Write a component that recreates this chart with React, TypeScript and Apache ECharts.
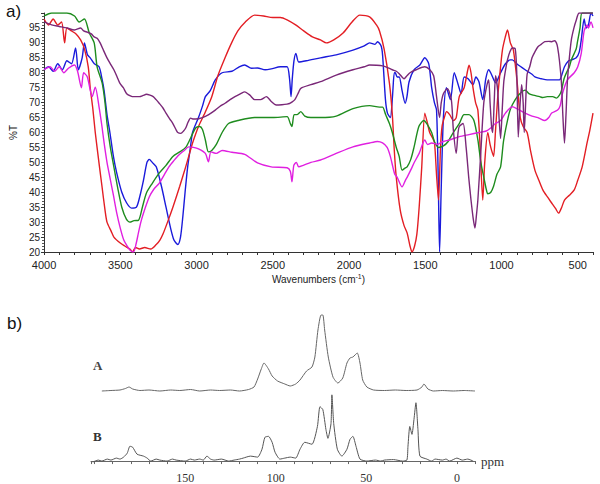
import React, { useEffect, useRef } from "react";
import * as echarts from "echarts";

// FTIR spectra: [wavenumber (cm-1), %T]
const redIR: number[][] = [[4000,98],[3970,96],[3940,98],[3910,96],[3885,97],[3865,90],[3850,95],[3820,94],[3790,93],[3760,91],[3735,88],[3710,82],[3697,75],[3680,68],[3664,60],[3640,50],[3620,42],[3600,34],[3587,30],[3560,27],[3542,25],[3500,23],[3470,22],[3437,21],[3420,20],[3400,21.5],[3374,21],[3340,21.5],[3300,21],[3264,22.5],[3240,24],[3220,26],[3190,30],[3155,35],[3110,42],[3071,48.5],[3040,54],[3026,56.5],[2987,62],[2950,66],[2900,72],[2860,79],[2813,85],[2770,90],[2729,94],[2680,97],[2619,99.3],[2560,99],[2500,98.5],[2450,98.5],[2406,97.7],[2350,96],[2297,94],[2240,92],[2187,91],[2148,90],[2100,91],[2039,93.3],[1980,97],[1929,99.3],[1865,98.7],[1820,96],[1800,94],[1770,88],[1735,76.5],[1716,66],[1703,54],[1690,45],[1664,34],[1640,29],[1619,26.4],[1600,22],[1587,20],[1570,22],[1555,26],[1540,35],[1523,48.5],[1503,66.5],[1485,63],[1471,60],[1450,58],[1439,56.5],[1425,45],[1413,37.4],[1400,55],[1390,62],[1375,65],[1360,67],[1340,66],[1315,64],[1297,65],[1277,72],[1245,75],[1225,80],[1213,82.5],[1200,80],[1187,75],[1170,70],[1155,67.5],[1140,55],[1123,37.4],[1110,50],[1090,60],[1075,56],[1065,54],[1052,52],[1040,60],[1026,71],[1010,80],[994,87.6],[975,92],[961,94.3],[942,90],[922,87.6],[897,76.6],[877,65],[858,62],[832,60],[810,54],[781,47.4],[755,44],[729,40.8],[700,38.5],[671,36.4],[645,34.5],[626,33],[605,35],[587,37.4],[555,39],[523,40.8],[500,44],[471,48.5],[439,56.5],[420,61],[400,66.5]];

const blueIR: number[][] = [[4000,81],[3970,82],[3940,80.5],[3910,83],[3880,81],[3850,84],[3820,83],[3793,88.3],[3775,81],[3750,85],[3735,90],[3715,86],[3697,85],[3670,83],[3639,82],[3620,78],[3606,74],[3587,66],[3568,60],[3545,52],[3523,46.4],[3490,40],[3458,36.4],[3426,34.7],[3394,35],[3370,39],[3348,44],[3325,50],[3310,51],[3290,50],[3264,48.5],[3230,42],[3200,35],[3170,28],[3148,24],[3123,22.5],[3105,25],[3090,31.7],[3075,40],[3058,48.5],[3040,55],[3026,60],[2987,65],[2960,69],[2942,72],[2910,74],[2877,77.6],[2832,80],[2768,80.5],[2720,82],[2684,82.6],[2640,81.5],[2600,81.6],[2550,81],[2510,81.3],[2450,82],[2406,82],[2390,78],[2380,72],[2372,78],[2361,84],[2348,86.5],[2330,83.6],[2280,84],[2187,85],[2084,86],[1974,87.6],[1900,89],[1865,90],[1830,89.5],[1813,90.4],[1790,89],[1780,86],[1761,71],[1748,66.5],[1729,65],[1715,72],[1703,80],[1697,80],[1684,78.6],[1671,78.6],[1652,74],[1632,69.8],[1620,72],[1606,77],[1574,81],[1535,82.6],[1503,85],[1477,83],[1458,75],[1440,70],[1426,67.5],[1415,45],[1406,20],[1396,40],[1381,65],[1361,75],[1335,71],[1310,80],[1284,76],[1265,73],[1245,78.6],[1219,78],[1187,76],[1168,78.6],[1148,77],[1123,71],[1103,78],[1084,81],[1071,80],[1050,77.6],[1039,76.6],[1006,80],[974,83],[942,84.3],[929,84.3],[900,83],[845,81],[800,79.5],[781,78.6],[740,78],[700,77.6],[652,77.6],[620,77.6],[600,80],[587,82],[560,84],[542,84.3],[510,85],[490,87],[477,91],[458,98],[445,95],[430,96],[413,100],[400,99]];

const greenIR: number[][] = [[4000,99],[3950,100],[3900,100],[3850,100],[3800,99],[3770,97],[3735,98],[3703,93.3],[3671,90],[3652,82],[3619,76.6],[3600,70],[3587,63],[3565,55],[3542,48.5],[3515,41],[3490,35],[3460,31],[3437,30],[3410,30.5],[3381,30.6],[3355,35],[3329,39.7],[3290,43],[3245,46.4],[3200,49],[3155,52],[3110,53.5],[3071,55],[3040,58],[3006,61.5],[2980,62],[2961,61],[2942,57.5],[2922,53.5],[2900,54],[2870,56],[2832,60],[2790,63],[2729,64],[2619,65],[2500,65],[2406,65.3],[2385,63],[2374,62],[2360,66],[2340,66],[2316,67],[2290,65.5],[2250,65],[2187,65],[2084,65.5],[1974,68],[1865,69],[1800,68.5],[1780,68.5],[1760,66],[1735,63],[1716,60],[1690,55],[1671,52],[1652,47.4],[1635,48],[1619,48.5],[1595,51],[1574,55],[1542,62],[1510,64],[1490,63],[1458,60],[1440,57],[1413,55],[1381,55.5],[1350,57],[1316,60],[1277,63],[1245,66],[1213,66],[1181,64],[1155,57.5],[1135,49.8],[1116,45],[1100,41],[1090,39.5],[1070,40],[1052,42],[1030,46],[1006,48.5],[987,57],[961,64],[940,68],[910,71],[880,73],[845,74.2],[820,73],[793,72.5],[750,72],[729,71.7],[700,72],[664,72],[640,71.5],[620,72.5],[607,74],[590,78],[574,80],[555,82],[542,84.3],[510,88],[503,90],[485,95],[471,100],[400,100]];

const magentaIR: number[][] = [[4000,81],[3960,82],[3930,80.5],[3900,82],[3870,80],[3840,81.5],[3800,82.6],[3780,80.5],[3755,75],[3740,80],[3716,78.6],[3684,72],[3664,75.2],[3639,68.5],[3620,62],[3606,56.5],[3587,50],[3568,45],[3545,39],[3523,33],[3500,28],[3477,24],[3455,22],[3437,20.7],[3413,20],[3395,23],[3381,26.4],[3365,30],[3348,33],[3310,38.4],[3280,41],[3245,43],[3210,46],[3181,48.5],[3150,50.5],[3116,52.5],[3080,54],[3052,55.2],[3020,55],[2987,54.5],[2942,53],[2922,50.2],[2905,53.5],[2870,53],[2832,54],[2768,53.4],[2684,52.7],[2600,49.8],[2510,48.5],[2406,48.2],[2385,47],[2374,43.5],[2362,49],[2345,50],[2330,48.5],[2300,49],[2250,50],[2187,50.8],[2084,53],[1974,55.2],[1865,56.5],[1813,57],[1780,56.5],[1750,55],[1729,52],[1700,46],[1684,45],[1652,41.8],[1630,44],[1619,45],[1590,48],[1574,49.8],[1540,53],[1503,57.5],[1485,56],[1458,56.5],[1420,56],[1400,56.5],[1381,57],[1342,57.5],[1277,58.6],[1213,59.3],[1148,60],[1100,60.5],[1071,61.5],[1040,63],[1006,64],[974,66.5],[929,68.6],[900,68],[845,66.5],[800,65.5],[761,65],[716,64],[690,65],[671,66.5],[632,67.5],[615,69],[600,73],[568,77.6],[523,80],[500,82],[477,86.5],[458,94],[439,96],[430,95],[413,97],[400,95]];

const purpleIR: number[][] = [[4000,97],[3950,96],[3900,95.5],[3850,95],[3800,94.3],[3760,95],[3740,94],[3716,93.6],[3690,93],[3671,92],[3650,91.5],[3632,90],[3610,87.5],[3587,85],[3565,83],[3542,81],[3520,78.5],[3503,76.5],[3480,75],[3458,73],[3430,72.2],[3413,72],[3374,72],[3350,72.4],[3329,72.8],[3305,72.5],[3284,72],[3265,71],[3245,69.8],[3220,68.2],[3200,66.5],[3175,64.5],[3155,63],[3135,61],[3123,60],[3103,59.7],[3085,60.5],[3071,61.5],[3055,63.5],[3039,64.8],[3020,64.5],[3006,64.5],[2961,65],[2920,66],[2877,67.5],[2840,69],[2813,69.8],[2780,71],[2748,72],[2710,73],[2684,73.6],[2650,72.5],[2619,71],[2580,71],[2542,72],[2510,70.4],[2477,69.2],[2440,69.3],[2406,69.5],[2390,69.7],[2380,70],[2355,71],[2330,73.5],[2316,74.8],[2250,76],[2187,77],[2084,79.2],[1974,81],[1900,82],[1865,82.6],[1820,82.5],[1780,82.3],[1750,81.8],[1716,81],[1690,80.5],[1671,79.7],[1639,78],[1620,79],[1600,80],[1560,81],[1503,82],[1470,81],[1445,79],[1426,72],[1406,65],[1395,70],[1381,73],[1355,74.7],[1329,71],[1316,61],[1297,53],[1285,60],[1277,62],[1252,63],[1232,55],[1215,45],[1200,37.4],[1185,31],[1174,28],[1165,32],[1155,37.4],[1135,54],[1116,70],[1095,76],[1084,77.6],[1075,70],[1065,62],[1058,60],[1048,70],[1039,79],[1025,74],[1015,64],[1006,58],[995,68],[985,77],[970,82],[961,84.3],[945,87],[929,88.3],[910,88],[900,80],[890,58.5],[880,68],[868,76],[858,70],[851,60],[840,72],[832,79.5],[815,82],[800,85],[781,87],[761,88.7],[740,89.5],[716,90.4],[690,90.5],[671,90.4],[652,90.7],[640,90],[632,88.5],[620,84],[607,76.6],[597,65],[587,56.5],[577,66],[568,77],[555,85],[542,91],[525,95],[510,97.6],[490,100],[400,100]];

// 13C NMR spectra: [ppm, intensity]
const nmrA: number[][] = [[196,0],[191,0.5],[186,1],[183,2.5],[181,4],[179,2],[175,0.5],[170,1],[164,0],[158,1],[153,0.5],[147,1.5],[142,0],[136,1],[131,0.5],[125,1],[120,0],[115,1.5],[112,4],[110,12],[108,22],[106.5,28],[104,22],[102,15],[99,10],[95,7],[92,5],[89,7],[86.6,11],[83,20],[80,24],[78.4,34],[76.7,61],[75,76],[74,76],[73,61],[71,34],[68.4,14],[65.7,8],[63,13],[60.7,28],[59,33],[57.4,34],[55,38],[53.5,28],[52,11],[49.7,4],[46,1],[40,0.5],[34,1],[28,0.5],[22,1],[19.3,4],[18.2,7],[16,2],[13,0],[8,0.5],[2,0],[-4,0.5],[-10,0]];

const nmrB: number[][] = [[201,-1],[198,1],[196,0],[193,2],[191,1],[188,3],[186,2],[184,4],[182,8],[180.5,15],[179,14],[176.6,7],[173,5],[171,3],[169,0],[166,2],[164,1],[160,0],[157,2],[155,1],[150,0],[147,2],[145,1],[142,2],[140,1],[138,5],[136,2],[134,1],[130,2],[126,0],[123,1],[120,2],[118,3],[114,5],[110,4],[107.6,12],[106,24],[104,25],[102,19],[100.4,9],[97.7,2],[95,3],[92,4],[89,3],[86.6,12],[84,19],[80,17],[77,35],[75.6,55],[74,52],[72.3,32],[71.2,23],[69.5,38],[69,67],[68,38],[66,12],[63.5,5],[60.7,12],[59,22],[57.4,25],[55.7,15],[53.5,2],[49.7,0],[45,1],[42,0],[40,1],[35,1.5],[30,0],[27.6,1],[27,15],[26,35],[24.8,27],[23.7,42],[22.6,59],[21.5,32],[20.4,5],[16.6,2],[14,0],[12,2],[8,1],[6,2],[4,0],[0,3],[-3,1],[-6,2],[-9,0]];

const irColors = ["#e31e24", "#1a1adb", "#1e8c1e", "#e020e0", "#7a2878"];

export default function App() {
  const ref = useRef<HTMLDivElement>(null);
  useEffect(() => {
    const chart = echarts.init(ref.current!, null, { renderer: "svg" });
    const sans = "Liberation Sans";
    const serif = "Liberation Serif";
    const irSeries = [redIR, blueIR, greenIR, magentaIR, purpleIR].map((d, i) => ({
      type: "line",
      xAxisIndex: 0,
      yAxisIndex: 0,
      data: d,
      showSymbol: false,
      symbol: "none",
      smooth: 0.25,
      lineStyle: { width: 1.4, color: irColors[i] },
      itemStyle: { color: irColors[i] },
      z: i === 0 ? 7 : 5 + i,
    }));
    chart.setOption({
      animation: false,
      grid: [
        { left: 36, top: 13, width: 557, height: 239 },
        { left: 91, top: 300, width: 384, height: 91 },
        { left: 91, top: 380, width: 384, height: 88 },
      ],
      xAxis: [
        {
          type: "value",
          gridIndex: 0,
          min: 400,
          max: 4000,
          interval: 100,
          inverse: true,
          axisLine: { show: true, lineStyle: { color: "#333", width: 1 } },
          axisTick: { show: true, length: 3, lineStyle: { color: "#333" } },
          splitLine: { show: false },
          axisLabel: {
            interval: 0,
            margin: 7,
            fontFamily: sans,
            fontSize: 11,
            color: "#222",
            formatter: (v: number) => (v % 500 === 0 ? String(v) : ""),
          },
          name: "Wavenumbers (cm{sup|-1})",
          nameLocation: "middle",
          nameGap: 21,
          nameTextStyle: {
            fontFamily: sans,
            fontSize: 10,
            color: "#222",
            rich: { sup: { fontSize: 7, verticalAlign: "top", padding: [0, 0, 5, 0], fontFamily: sans, color: "#222" } },
          },
        },
        {
          type: "value",
          gridIndex: 1,
          min: -10,
          max: 202,
          inverse: true,
          show: false,
        },
        {
          type: "value",
          gridIndex: 2,
          min: -10,
          max: 202,
          interval: 10,
          inverse: true,
          axisLine: { show: true, lineStyle: { color: "#666", width: 1 } },
          axisTick: { show: true, length: 3, lineStyle: { color: "#666" } },
          splitLine: { show: false },
          axisLabel: {
            interval: 0,
            margin: 5,
            fontFamily: serif,
            fontSize: 12,
            color: "#333",
            formatter: (v: number) => (v >= 0 && v < 200 && v % 50 === 0 ? String(v) : ""),
          },
          name: "ppm",
          nameLocation: "start",
          nameGap: 6,
          nameTextStyle: { fontFamily: serif, fontSize: 13, color: "#333", padding: [8, 0, 0, 0] },
        },
      ],
      yAxis: [
        {
          type: "value",
          gridIndex: 0,
          min: 20,
          max: 100,
          interval: 5,
          axisLine: { show: true, lineStyle: { color: "#333", width: 1 } },
          axisTick: { show: true, length: 3, lineStyle: { color: "#333" } },
          minorTick: { show: true, splitNumber: 5, length: 2, lineStyle: { color: "#555" } },
          splitLine: { show: false },
          axisLabel: {
            margin: 4,
            fontFamily: sans,
            fontSize: 10,
            color: "#222",
            formatter: (v: number) => (v === 100 ? "" : String(v)),
          },
          name: "%T",
          nameLocation: "middle",
          nameRotate: 90,
          nameGap: 22,
          nameTextStyle: { fontFamily: sans, fontSize: 10, color: "#222" },
        },
        { type: "value", gridIndex: 1, min: 0, max: 91, show: false },
        { type: "value", gridIndex: 2, min: -6, max: 82, show: false },
      ],
      graphic: [
        { type: "text", left: 6, top: 3, style: { text: "a)", fontFamily: sans, fontSize: 17, fill: "#111" } },
        { type: "text", left: 7, top: 315, style: { text: "b)", fontFamily: sans, fontSize: 17, fill: "#111" } },
        { type: "text", left: 93, top: 359, style: { text: "A", fontFamily: serif, fontSize: 13, fontWeight: "bold", fill: "#444" } },
        { type: "text", left: 93, top: 430, style: { text: "B", fontFamily: serif, fontSize: 13, fontWeight: "bold", fill: "#333" } },
      ],
      series: [
        ...irSeries,
        {
          type: "line",
          xAxisIndex: 1,
          yAxisIndex: 1,
          data: nmrA,
          showSymbol: false,
          symbol: "none",
          smooth: 0.2,
          clip: false,
          lineStyle: { width: 1, color: "#666" },
        },
        {
          type: "line",
          xAxisIndex: 2,
          yAxisIndex: 2,
          data: nmrB,
          showSymbol: false,
          symbol: "none",
          smooth: 0.2,
          clip: false,
          lineStyle: { width: 1, color: "#555" },
        },
      ],
    });
    return () => chart.dispose();
  }, []);
  return <div ref={ref} style={{ position: "absolute", left: 0, top: 0, width: 600, height: 484 }} />;
}
